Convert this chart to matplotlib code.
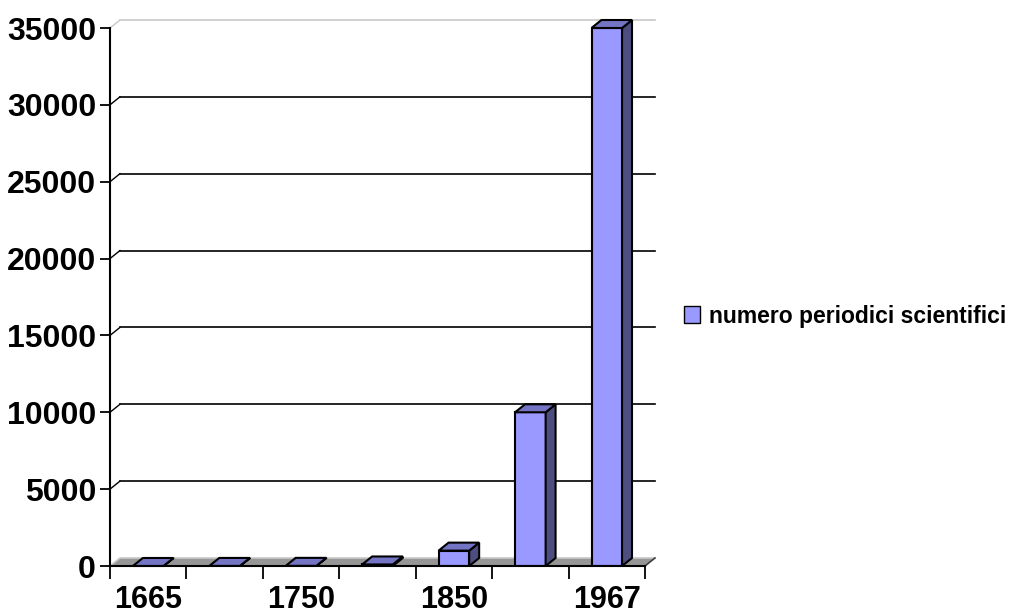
import matplotlib
matplotlib.use('Agg')
import matplotlib.pyplot as plt
from matplotlib.patches import Polygon, Patch

# numero di periodici scientifici per anno
anni = ['1665', '1700', '1750', '1800', '1850', '1900', '1967']
periodici = [1, 5, 10, 100, 1000, 10000, 35000]
yticks = [0, 5000, 10000, 15000, 20000, 25000, 30000, 35000]

fronte = '#9999ff'
lato = '#4d4d80'
cima = '#7474c4'

plt.rcParams['font.family'] = ['Liberation Sans', 'DejaVu Sans']
plt.rcParams['font.weight'] = 'bold'

fig = plt.figure(figsize=(10.11, 6.16), dpi=100)
ax = fig.add_axes([110/1011, 50/616, 535/1011, 538/616])

n = len(anni)
x = list(range(n))
larg = 0.4
dx, dy = 0.13, 520   # profondita' finta 3D, in unita' dati

ax.set_xlim(-0.5, n - 0.5)
ax.set_ylim(0, yticks[-1])

# pavimento
ax.add_patch(Polygon([(-0.5, 0), (n - 0.5, 0), (n - 0.5 + dx, dy), (-0.5 + dx, dy)],
                     closed=True, facecolor='#969696', edgecolor='none',
                     clip_on=False, zorder=1))
ax.plot([-0.5, -0.5 + dx, n - 0.5 + dx], [0, dy, dy], color='#c8c8c8', lw=1.2,
        clip_on=False, zorder=1)
ax.plot([n - 0.5, n - 0.5 + dx], [0, dy], color='#404040', lw=1.2,
        clip_on=False, zorder=1)

# griglia sulla parete di fondo
for v in yticks[1:]:
    col = '#c8c8c8' if v == yticks[-1] else 'black'
    ax.plot([-0.5 + dx, n - 0.5 + dx], [v + dy, v + dy], color=col, lw=1.2,
            clip_on=False, zorder=1)
    ax.plot([-0.5, -0.5 + dx], [v, v + dy], color=col, lw=1.0,
            clip_on=False, zorder=1)

# barre: faccia frontale + lato + cima
ax.bar(x, periodici, width=larg, color=fronte, edgecolor='black', lw=1.5, zorder=3)
for xi, v in zip(x, periodici):
    l = xi - larg / 2
    r = xi + larg / 2
    ax.add_patch(Polygon([(r, 0), (r + dx, dy), (r + dx, v + dy), (r, v)], closed=True,
                         facecolor=lato, edgecolor='black', lw=1.5, zorder=3,
                         clip_on=False))
    ax.add_patch(Polygon([(l, v), (r, v), (r + dx, v + dy), (l + dx, v + dy)], closed=True,
                         facecolor=cima, edgecolor='black', lw=1.5, zorder=3,
                         clip_on=False))

# assi
for s in ['top', 'right']:
    ax.spines[s].set_visible(False)
for s in ['left', 'bottom']:
    ax.spines[s].set_linewidth(1.5)
    ax.spines[s].set_zorder(4)

ax.set_yticks(yticks)
ax.tick_params(axis='y', length=7, width=1.3, labelsize=23, pad=3)

ax.set_xticks([i - 0.5 for i in range(n + 1)])
ax.set_xticklabels([])
ax.tick_params(axis='x', which='major', length=9, width=1.3)
ax.set_xticks(x, labels=[a if i % 2 == 0 else '' for i, a in enumerate(anni)], minor=True)
ax.tick_params(axis='x', which='minor', length=0, labelsize=22, pad=14)

ax.legend(handles=[Patch(facecolor=fronte, edgecolor='black',
                         label='numero periodici scientifici')],
          loc='center left', bbox_to_anchor=(684/1011, 300/616),
          bbox_transform=fig.transFigure, frameon=False,
          prop={'size': 16.5, 'weight': 'bold'},
          handlelength=0.7, handleheight=0.7, handletextpad=0.4,
          borderpad=0, borderaxespad=0)

fig.savefig('out.png', dpi=100)
